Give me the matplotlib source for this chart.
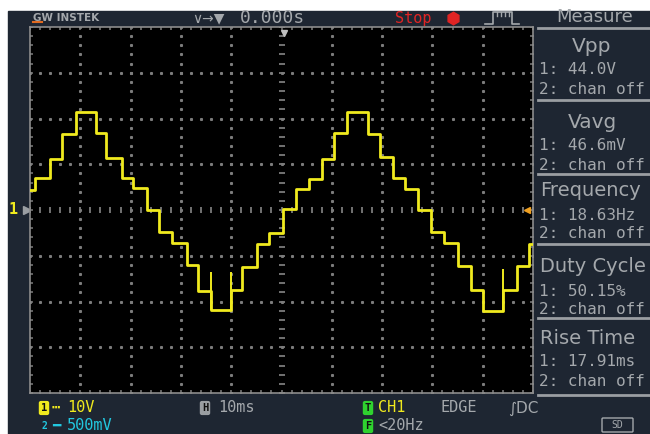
import numpy as np
import matplotlib
matplotlib.use("Agg")
import matplotlib.pyplot as plt
from matplotlib.patches import Rectangle, FancyBboxPatch

# staircase trace (time in ms, level in V)
step_t_ms = [-50, -49, -46, -43.6, -40.8, -36.8, -34.8, -31.8, -29.6, -26.8,
             -24.4, -21.8, -18.8, -16.6, -14, -10, -7.8, -4.8, -2.4, 0.2,
             2.8, 5.4, 8, 10.4, 13, 17.2, 19.6, 22.2, 24.6, 27.2,
             29.8, 32.4, 35, 37.6, 40, 44, 46.8, 49.2]
step_v = [4.4, 7.1, 11.2, 16.7, 21.5, 16.8, 11.4, 7.1, 4.7, 0.0,
          -4.8, -7.2, -12.0, -17.7, -21.9, -17.5, -12.4, -7.4, -5.0, 0.2,
          4.6, 6.8, 11.2, 16.9, 21.5, 16.7, 11.6, 7.1, 4.5, 0.0,
          -4.8, -7.2, -12.2, -17.5, -22.1, -17.5, -12.2, -7.4]

# glitches near the troughs
spike_t_ms = [-14, -10, 44]
spike_lo_v = [-21.9, -21.9, -22.1]
spike_hi_v = [-13.5, -13.6, -12.9]

measure_titles = ["Vpp", "Vavg", "Frequency", "Duty Cycle", "Rise Time"]
ch1_values = ["44.0V", "46.6mV", "18.63Hz", "50.15%", "17.91ms"]
ch2_values = ["chan off"] * 5

volts_per_div = "10V"
ch2_scale = "500mV"
time_per_div = "10ms"
trig_delay = "0.000s"

NAVY = "#1e2632"
GRAY = "#a4a8ac"
YEL = "#f0ea1e"
CYAN = "#22c8e0"
GREEN = "#2fd22f"

W, H = 650, 434
fig = plt.figure(figsize=(6.5, 4.34), dpi=100)
fig.patch.set_facecolor("white")

# overlay in pixel coordinates for the instrument frame
ax0 = fig.add_axes([0, 0, 1, 1])
ax0.set_xlim(0, W)
ax0.set_ylim(H, 0)
ax0.axis("off")
ax0.add_patch(Rectangle((8, 11), W - 8, H - 11, color=NAVY, zorder=0))

mono = "DejaVu Sans Mono"

# top bar
ax0.text(33, 18, "GW INSTEK", color=GRAY, fontsize=7.5, fontweight="bold",
         va="center", family="DejaVu Sans")
ax0.plot([33, 42], [22, 22], color="#e06a20", lw=1.5)
ax0.text(192, 18, "\u2228\u2192\u25bc", color=GRAY, fontsize=10, va="center",
         family="DejaVu Sans")
ax0.text(240, 18, trig_delay, color=GRAY, fontsize=13, va="center", family=mono)
ax0.text(395, 18, "Stop", color="#e02424", fontsize=11, va="center", family=mono)
ax0.plot([453], [18], marker="h", color="#e02424", markersize=9)
ax0.plot([485, 493, 493, 512, 512, 519], [24, 24, 12, 12, 24, 24], color=GRAY, lw=1.2)
for xx in [497, 501, 505, 509]:
    ax0.plot([xx, xx], [12, 16], color=GRAY, lw=1)
ax0.text(556, 17, "Measure", color=GRAY, fontsize=13, va="center", family="DejaVu Sans")

# measurement panel
for yy in [28, 100, 174, 244, 318, 395]:
    ax0.plot([538, W], [yy, yy], color="#9a9ea2", lw=2)
title_y = [47, 122, 191, 267, 338]
line1_y = [70, 145, 216, 291, 362]
line2_y = [89, 165, 233, 309, 382]
for i, ttl in enumerate(measure_titles):
    if len(ttl) <= 4:
        ax0.text(592, title_y[i], ttl, color=GRAY, fontsize=14.5, ha="center",
                 va="center", family="DejaVu Sans")
    else:
        ax0.text(540, title_y[i], ttl, color=GRAY, fontsize=14, ha="left",
                 va="center", family="DejaVu Sans")
    ax0.text(539, line1_y[i], "1: " + ch1_values[i], color=GRAY, fontsize=11.5,
             va="center", family=mono)
    ax0.text(539, line2_y[i], "2: " + ch2_values[i], color=GRAY, fontsize=11.5,
             va="center", family=mono)

# left channel marker
ax0.text(9, 210, "1", color=YEL, fontsize=11, fontweight="bold", va="center", family=mono)
ax0.plot([27], [210], marker=">", color="#9a9ea2", markersize=6)

# bottom bar
def badge(x, y, s, fc):
    ax0.text(x, y, s, color="#101010", fontsize=7.5, fontweight="bold", ha="center",
             va="center", family=mono,
             bbox=dict(boxstyle="round,pad=0.2", fc=fc, ec="none"))

badge(44, 408, "1", YEL)
ax0.text(52, 408, "\u2505", color=YEL, fontsize=10, va="center", family=mono)
ax0.text(67, 408, volts_per_div, color=YEL, fontsize=11, va="center", family=mono)
ax0.text(41, 426, "2", color=CYAN, fontsize=7, va="center", fontweight="bold", family=mono)
ax0.text(52, 426, "\u2501", color=CYAN, fontsize=10, va="center", family=mono)
ax0.text(67, 426, ch2_scale, color=CYAN, fontsize=11, va="center", family=mono)
badge(205, 408, "H", "#9a9ea2")
ax0.text(218, 408, time_per_div, color=GRAY, fontsize=11, va="center", family=mono)
badge(368, 408, "T", GREEN)
ax0.text(378, 408, "CH1", color=YEL, fontsize=11, va="center", family=mono)
ax0.text(440, 408, "EDGE", color=GRAY, fontsize=11, va="center", family=mono)
ax0.text(508, 408, "\u222bDC", color=GRAY, fontsize=11, va="center", family="DejaVu Sans")
badge(368, 426, "F", GREEN)
ax0.text(378, 426, "<20Hz", color=GRAY, fontsize=11, va="center", family=mono)
ax0.add_patch(FancyBboxPatch((603, 419), 29, 12, boxstyle="round,pad=1",
                             fc="none", ec=GRAY, lw=1))
ax0.text(617, 425, "SD", color=GRAY, fontsize=7, ha="center", va="center", family=mono)

# scope screen
ax = fig.add_axes([30 / W, (H - 393) / H, 503 / W, 366 / H])
ax.set_facecolor("black")
ax.set_xlim(-50, 50)
ax.set_ylim(-40, 40)
ax.set_xticks([])
ax.set_yticks([])
for sp in ax.spines.values():
    sp.set_color("#8c8c8c")
    sp.set_linewidth(1.2)

dot = "#7c7c7c"
xs = np.arange(-50, 50.1, 2)
ys = np.arange(-40, 40.1, 2)
for v in [-30, -20, -10, 10, 20, 30]:
    ax.plot(xs, np.full_like(xs, v), ls="none", marker="s", markersize=1.2, color=dot)
for t in [-40, -30, -20, -10, 10, 20, 30, 40]:
    ax.plot(np.full_like(ys, t), ys, ls="none", marker="s", markersize=1.2, color=dot)
ax.plot(xs, np.zeros_like(xs), ls="none", marker="|", markersize=5, mew=1.3, color=dot)
ax.plot(np.zeros_like(ys), ys, ls="none", marker="_", markersize=5, mew=1.3, color=dot)
# ticks along the border
for yb in [-40, 40]:
    ax.plot(xs, np.full_like(xs, yb), ls="none", marker="|", markersize=5, mew=1.1, color=dot)
for xb in [-50, 50]:
    ax.plot(np.full_like(ys, xb), ys, ls="none", marker="_", markersize=5, mew=1.1, color=dot)

ax.step(step_t_ms + [50], step_v + [step_v[-1]], where="post", color=YEL, lw=2.0,
        zorder=5)
ax.vlines(spike_t_ms, spike_lo_v, spike_hi_v, color=YEL, lw=1.4, zorder=5)

# trigger markers
ax.plot([0.4], [38.6], marker="v", color="#c0c0c0", markersize=5, clip_on=False, zorder=6)
ax.plot([48.8], [0], marker="<", color="#f0a020", markersize=5, zorder=6)

fig.savefig("out.png", dpi=100, facecolor=fig.get_facecolor())
